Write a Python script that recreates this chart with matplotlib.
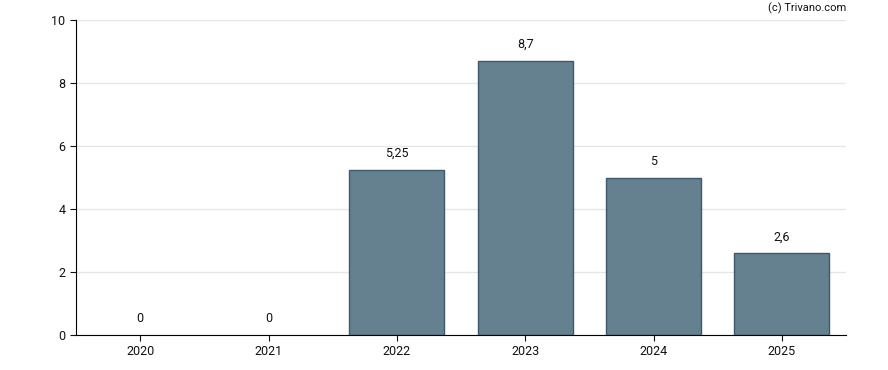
import matplotlib.pyplot as plt

years = ["2020", "2021", "2022", "2023", "2024", "2025"]
values = [0, 0, 5.25, 8.7, 5, 2.6]
labels = ["0", "0", "5,25", "8,7", "5", "2,6"]

plt.rcParams["font.family"] = ["Roboto", "DejaVu Sans"]

fig = plt.figure(figsize=(8.88, 3.70), dpi=100)
ax = fig.add_axes([76 / 888, 35 / 370, 770 / 888, 315 / 370])

x = range(len(years))
widths = [1 if v > 0 else 0 for v in values]
ax.bar(x, values, width=0.74, color="#65818f", edgecolor="#3d5a6c", linewidth=widths, zorder=2)

for xi, v, lab in zip(x, values, labels):
    ax.annotate(lab, (xi, v), xytext=(0, 7), textcoords="offset points",
                ha="center", va="bottom", fontsize=9, color="#111111")

ax.set_xlim(-0.5, 5.5)
ax.set_ylim(0, 10)
ax.set_xticks(list(x))
ax.set_xticklabels(years)
ax.set_yticks([0, 2, 4, 6, 8, 10])
ax.grid(axis="y", color="#e6e6e6", linewidth=1, zorder=0)
ax.tick_params(labelsize=9, colors="#111111", length=4)

for s in ["top", "right"]:
    ax.spines[s].set_visible(False)

fig.text(846 / 888, 1 - 8 / 370, "(c) Trivano.com", ha="right", va="center", fontsize=8, color="#111111")

plt.savefig("out.png")
